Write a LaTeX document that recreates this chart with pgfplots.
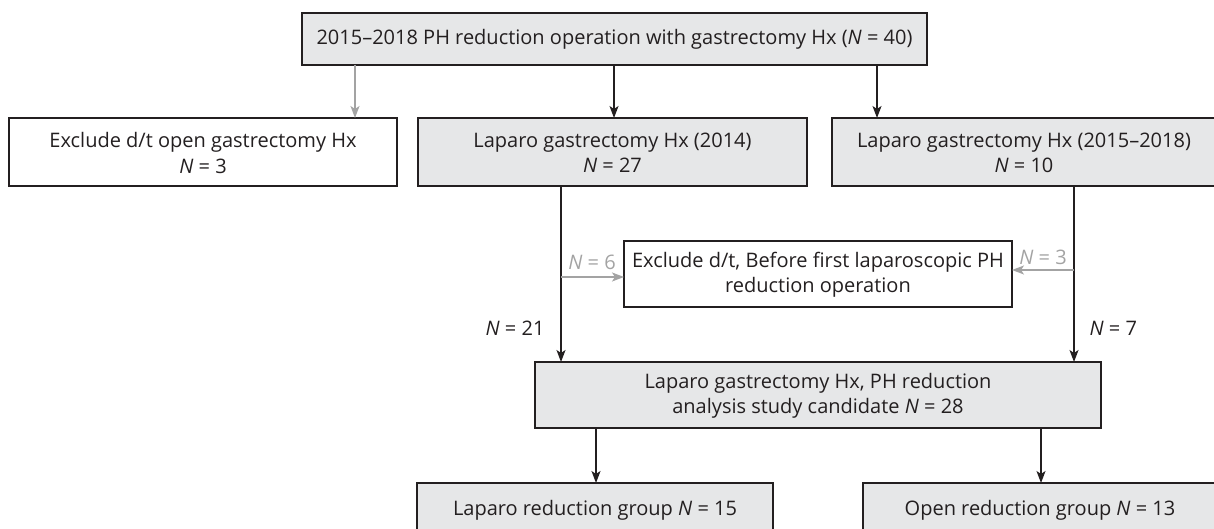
\documentclass[border=0pt]{standalone}
\usepackage{fontspec}
\setmainfont{Open Sans}
\usepackage{pgfplots}
\pgfplotsset{compat=1.18}
\usetikzlibrary{arrows.meta}
\definecolor{boxgray}{RGB}{230,231,232}
\definecolor{linegray}{RGB}{163,163,163}
\definecolor{ink}{RGB}{35,31,32}
\newcommand{\N}{\textit{N}}
\newcommand{\fs}{\fontsize{20}{25.5}\selectfont}
\begin{document}
\begin{tikzpicture}
\begin{axis}[
  scale only axis, width=1214pt, height=529pt,
  xmin=0, xmax=1214, ymin=0, ymax=529, y dir=reverse,
  hide axis, clip=true, no markers,
  every axis plot/.append style={line width=1.4pt},
]
% ---- boxes ----
\addplot[draw=ink, fill=boxgray] coordinates {(302,13) (927,13) (927,65) (302,65)} -- cycle;
\addplot[draw=ink, fill=white]   coordinates {(9,118) (397,118) (397,186) (9,186)} -- cycle;
\addplot[draw=ink, fill=boxgray] coordinates {(418,118) (807,118) (807,186) (418,186)} -- cycle;
\addplot[draw=ink, fill=boxgray] coordinates {(832,118) (1216,118) (1216,186) (832,186)} -- cycle;
\addplot[draw=ink, fill=white]   coordinates {(624,241) (1012,241) (1012,307) (624,307)} -- cycle;
\addplot[draw=ink, fill=boxgray] coordinates {(535,362) (1101,362) (1101,428) (535,428)} -- cycle;
\addplot[draw=ink, fill=boxgray] coordinates {(417,483) (773,483) (773,540) (417,540)} -- cycle;
\addplot[draw=ink, fill=boxgray] coordinates {(863,483) (1219,483) (1219,540) (863,540)} -- cycle;
% ---- arrows ----
\addplot[linegray, -{Stealth[length=12pt,width=9pt,inset=3pt]}] coordinates {(355,65) (355,118)};
\addplot[ink, -{Stealth[length=12pt,width=9pt,inset=3pt]}] coordinates {(614,65) (614,118)};
\addplot[ink, -{Stealth[length=12pt,width=9pt,inset=3pt]}] coordinates {(877,65) (877,118)};
\addplot[ink, -{Stealth[length=12pt,width=9pt,inset=3pt]}] coordinates {(561,186) (561,362)};
\addplot[ink, -{Stealth[length=12pt,width=9pt,inset=3pt]}] coordinates {(1074,186) (1074,362)};
\addplot[linegray, -{Stealth[length=12pt,width=9pt,inset=3pt]}] coordinates {(561,277) (624,277)};
\addplot[linegray, -{Stealth[length=12pt,width=9pt,inset=3pt]}] coordinates {(1074,270) (1012,270)};
\addplot[ink, -{Stealth[length=12pt,width=9pt,inset=3pt]}] coordinates {(596,428) (596,483)};
\addplot[ink, -{Stealth[length=12pt,width=9pt,inset=3pt]}] coordinates {(1041,428) (1041,483)};
% ---- texts ----
\node[text=ink, font=\fs, align=center] at (axis cs:614.5,39) {2015–2018 PH reduction operation with gastrectomy Hx (\N{} = 40)};
\node[text=ink, font=\fs, align=center] at (axis cs:203,153) {Exclude d/t open gastrectomy Hx\\\N{} = 3};
\node[text=ink, font=\fs, align=center] at (axis cs:612.5,153) {Laparo gastrectomy Hx (2014)\\\N{} = 27};
\node[text=ink, font=\fs, align=center] at (axis cs:1024,153) {Laparo gastrectomy Hx (2015–2018)\\\N{} = 10};
\node[text=ink, font=\fs, align=center] at (axis cs:818,275) {Exclude d/t, Before first laparoscopic PH\\reduction operation};
\node[text=ink, font=\fs, align=center] at (axis cs:818,396) {Laparo gastrectomy Hx, PH reduction\\analysis study candidate \N{} = 28};
\node[text=ink, font=\fs, align=center] at (axis cs:595,510) {Laparo reduction group \N{} = 15};
\node[text=ink, font=\fs, align=center] at (axis cs:1040,510) {Open reduction group \N{} = 13};
\node[text=linegray, font=\fs] at (axis cs:592,262) {\N{} = 6};
\node[text=linegray, font=\fs] at (axis cs:1043,257) {\N{} = 3};
\node[text=ink, font=\fs, anchor=east] at (axis cs:548,328) {\N{} = 21};
\node[text=ink, font=\fs, anchor=west] at (axis cs:1086,328) {\N{} = 7};
\end{axis}
\pgfresetboundingbox
\path[use as bounding box] (current axis.south west) rectangle (current axis.north east);
\end{tikzpicture}
\end{document}
